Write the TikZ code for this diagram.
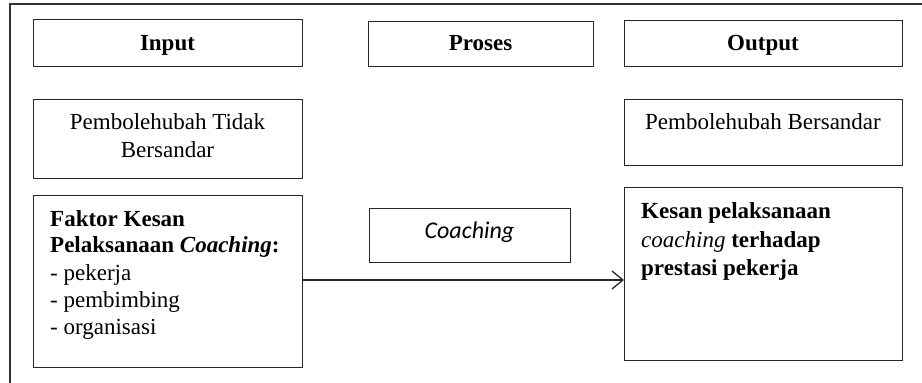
\documentclass[tikz,border=0pt]{standalone}
\usepackage{fontspec}
\setmainfont{Liberation Serif}
\newfontfamily\calfont{Carlito}
\usetikzlibrary{arrows.meta}
\begin{document}
\begin{tikzpicture}[x=1pt,y=-1pt,
  box/.style={draw=black!85,line width=1.4pt,rectangle,inner sep=0pt,anchor=north west},
  reg/.style={inner sep=0pt,font=\fontsize{23}{28}\selectfont},
  bld/.style={inner sep=0pt,font=\fontsize{23}{27}\selectfont\bfseries},
  conn/.style={draw=black!85,line width=1.3pt,-{Straight Barb[length=11pt,width=18pt,line width=1.3pt]}}]
\useasboundingbox (0,0) rectangle (922,383);
% outer frame (cut at right and bottom)
\draw[draw=black!80,line width=1.6pt] (10,383) -- (10,4) -- (922,4);
% header boxes
\node[box,minimum width=269pt,minimum height=47pt] (inbox) at (33,19) {};
\node[box,minimum width=225pt,minimum height=45pt] (probox) at (368,21) {};
\node[box,minimum width=278pt,minimum height=46pt] (outbox) at (624,20) {};
\node[bld,anchor=base] (intxt) at (167.5,50) {Input};
\node[bld,anchor=base] (protxt) at (480.5,50) {Proses};
\node[bld,anchor=base] (outtxt) at (763,50) {Output};
% variable boxes
\node[box,minimum width=269pt,minimum height=79pt] (tbbox) at (33,99) {};
\node[reg,anchor=base] (tb1) at (167.5,129) {Pembolehubah Tidak};
\node[reg,anchor=base] (tb2) at (167.5,157) {Bersandar};
\node[box,minimum width=278pt,minimum height=66pt] (bbox) at (624,99) {};
\node[reg,anchor=base] (bb1) at (763,129) {Pembolehubah Bersandar};
% factor box
\node[box,minimum width=269pt,minimum height=172pt] (faktor) at (33,195) {};
\node[bld,anchor=base west] (f1) at (50,226) {Faktor Kesan};
\node[bld,anchor=base west] (f2) at (50,252) {Pelaksanaan \textit{Coaching}:};
\node[reg,anchor=base west] (f3) at (50,280) {- pekerja};
\node[reg,anchor=base west] (f4) at (50,307) {- pembimbing};
\node[reg,anchor=base west] (f5) at (50,334) {- organisasi};
% coaching box
\node[box,minimum width=201pt,minimum height=54pt] (coach) at (369,208) {};
\node[inner sep=0pt,anchor=base,font=\fontsize{24}{28}\selectfont\calfont\itshape] (ctxt) at (469.5,238) {Coaching};
% result box
\node[box,minimum width=278pt,minimum height=173pt] (kesan) at (624,187) {};
\node[bld,anchor=base west] (k1) at (641,218) {Kesan pelaksanaan};
\node[bld,anchor=base west] (k2) at (641,247) {\textit{\mdseries coaching} terhadap};
\node[bld,anchor=base west] (k3) at (641,275) {prestasi pekerja};
% arrow
\coordinate (astart) at (faktor.east |- 0,280);
\draw[conn] (astart) -- (astart -| kesan.west);
\end{tikzpicture}
\end{document}
